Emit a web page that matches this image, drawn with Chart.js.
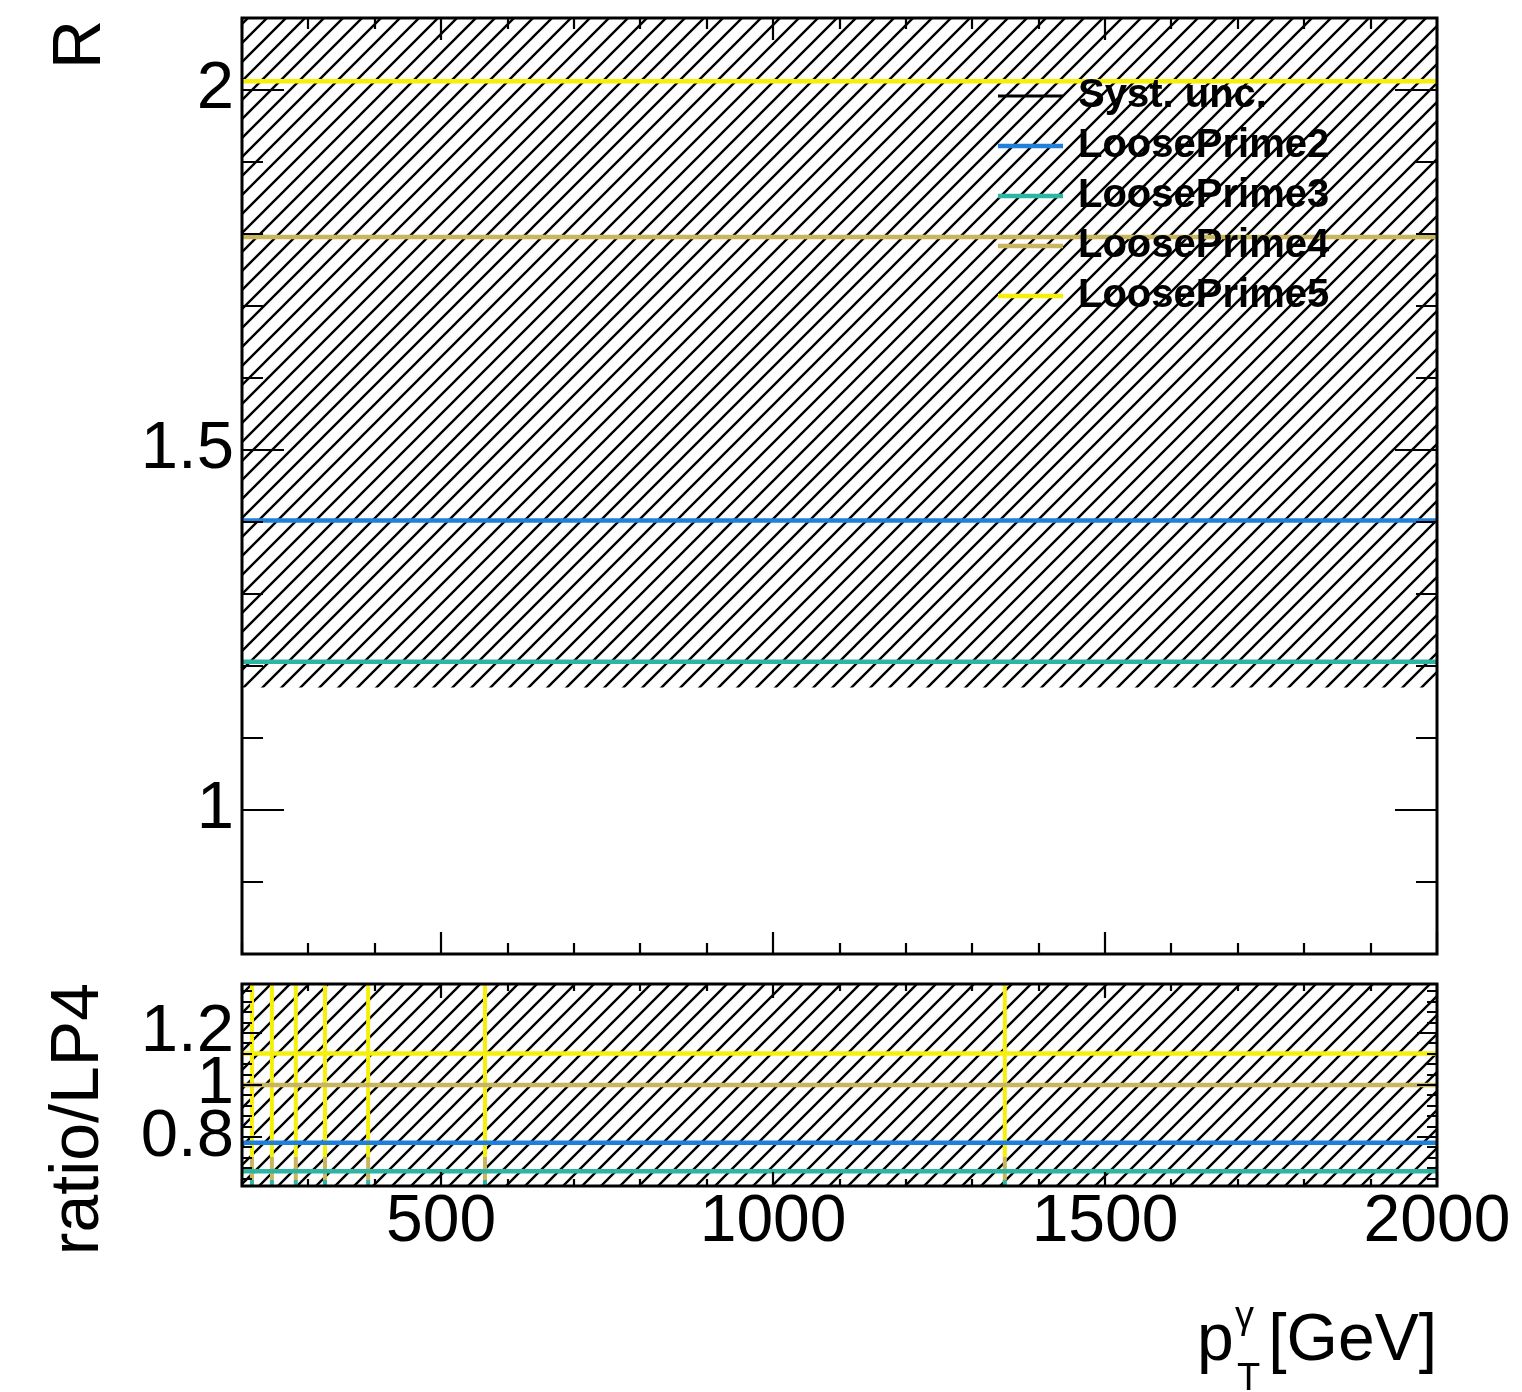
<!DOCTYPE html>
<html><head><meta charset="utf-8">
<script src="https://cdn.jsdelivr.net/npm/chart.js@4.4.1/dist/chart.umd.min.js"></script>
<style>
html,body{margin:0;padding:0;background:#fff;}
#wrap{position:relative;width:1522px;height:1392px;background:#fff;}
#c1{position:absolute;left:0;top:0;}
#c2{position:absolute;left:0;top:970px;}
</style></head><body>
<div id="wrap"><canvas id="c1" width="1522" height="970"></canvas><canvas id="c2" width="1522" height="422"></canvas></div>
<script>
// ---------------- data ----------------
const ptPoints = [200, 2000];            // pT range covered by the flat histograms
const sysLow  = [1.17, 1.17];            // systematic band (top panel)
const sysHigh = [2.30, 2.30];
const lp2 = [1.402, 1.402];
const lp3 = [1.206, 1.206];
const lp4 = [1.796, 1.796];
const lp5 = [2.012, 2.012];

const ratioSysLow  = [0.55, 0.55];       // systematic band (ratio panel)
const ratioSysHigh = [1.45, 1.45];
const ratioLP2 = [0.778, 0.778];
const ratioLP3 = [0.669, 0.669];
const ratioLP4 = [1.0, 1.0];
const ratioLP5 = [1.121, 1.121];

// bin edges where the ratio histograms jump out of range
const spikeEdges = [215, 245, 281, 325, 390, 566, 1349];
const spikeLP3 = [0.55, 0.635];
const spikeLP4 = [0.635, 0.723];
const spikeLP5 = [0.723, 1.45];

const xTickLabels = [500, 1000, 1500, 2000];
const yTicksTop = [1, 1.5, 2];
const yTicksRatio = [0.8, 1, 1.2];

const legendLabels = ['Syst. unc.', 'LoosePrime2', 'LoosePrime3', 'LoosePrime4', 'LoosePrime5'];

// ---------------- styles ----------------
const C_BLUE = '#1e80d8', C_TEAL = '#2db5a2', C_TAN = '#c9b55e', C_YEL = '#f6ef0a';
const legendColors = ['#000000', C_BLUE, C_TEAL, C_TAN, C_YEL];
const FONT = '"Liberation Sans", Arial, Helvetica, sans-serif';

function makeHatch(){
  const s = 19, cv = document.createElement('canvas');
  cv.width = s; cv.height = s;
  const g = cv.getContext('2d');
  g.strokeStyle = '#000'; g.lineWidth = 2.4; g.lineCap = 'square';
  g.beginPath();
  g.moveTo(0, s); g.lineTo(s, 0);
  g.moveTo(-s/2, s/2); g.lineTo(s/2, -s/2);
  g.moveTo(s/2, s*1.5); g.lineTo(s*1.5, s/2);
  g.stroke();
  return g.createPattern(cv, 'repeat');
}
const hatch = makeHatch();

const pts = (xs, ys) => xs.map((x, i) => ({x, y: ys[i]}));
function spikes(edges, range){
  const d = [];
  edges.forEach(e => { d.push({x:e, y:range[0]}, {x:e, y:range[1]}, {x:e, y:null}); });
  return d;
}
function range(a, b, step, skip){
  const out = [];
  for (let v = a; v <= b + 1e-9; v += step){
    const r = Math.round(v*1000)/1000;
    if (!skip.some(s => Math.abs(s - r) < 1e-6)) out.push(r);
  }
  return out;
}
const xMinor = range(200, 2000, 100, xTickLabels);
const yMinorTop = range(0.8, 2.1, 0.1, yTicksTop);
const yMinorRatio = range(0.64, 1.36, 0.04, yTicksRatio);

const lineDs = (label, data, color, order) => ({label, data, borderColor: color, borderWidth: 4.5,
  pointRadius: 0, fill: false, tension: 0, order});

const rootAxes = {
  id: 'rootAxes',
  afterDatasetsDraw(chart, args, o){
    const {ctx, chartArea: a, scales: {x, y}} = chart;
    ctx.save();
    ctx.strokeStyle = '#000'; ctx.lineWidth = 2.2; ctx.lineCap = 'butt';
    ctx.beginPath();
    const vx = (vals, len) => vals.forEach(v => {
      const p = Math.round(x.getPixelForValue(v));
      ctx.moveTo(p, a.bottom); ctx.lineTo(p, a.bottom - len);
      ctx.moveTo(p, a.top); ctx.lineTo(p, a.top + len);
    });
    const vy = (vals, len) => vals.forEach(v => {
      const p = Math.round(y.getPixelForValue(v));
      ctx.moveTo(a.left, p); ctx.lineTo(a.left + len, p);
      ctx.moveTo(a.right, p); ctx.lineTo(a.right - len, p);
    });
    vx(xTickLabels, o.xMaj); vx(xMinor, o.xMin);
    vy(o.yMajVals, o.yMaj); vy(o.yMinVals, o.yMin);
    ctx.stroke();
    ctx.lineWidth = 3;
    ctx.strokeRect(a.left, a.top, a.right - a.left, a.bottom - a.top);

    // rotated y title
    ctx.fillStyle = '#000';
    ctx.font = '68px ' + FONT;
    ctx.save();
    ctx.translate(o.yTitleX, o.yTitleY);
    ctx.rotate(-Math.PI/2);
    ctx.textAlign = 'right'; ctx.textBaseline = 'alphabetic';
    ctx.fillText(o.yTitle, 0, 0);
    ctx.restore();

    if (o.legend){
      ctx.font = 'bold 40px ' + FONT;
      ctx.textAlign = 'left'; ctx.textBaseline = 'alphabetic';
      legendLabels.forEach((t, i) => {
        const base = 107 + i*50;
        ctx.strokeStyle = legendColors[i]; ctx.lineWidth = i === 0 ? 3 : 4.5;
        ctx.beginPath(); ctx.moveTo(998, base - 11); ctx.lineTo(1063, base - 11); ctx.stroke();
        ctx.fillStyle = '#000';
        ctx.fillText(t, 1078, base);
      });
    }
    if (o.xTitle){
      ctx.fillStyle = '#000'; ctx.textBaseline = 'alphabetic';
      ctx.font = '66px ' + FONT;
      ctx.textAlign = 'left'; ctx.fillText('p', 1197, 390);
      ctx.textAlign = 'right'; ctx.fillText('[GeV]', 1437, 390);
      ctx.font = '38px ' + FONT; ctx.textAlign = 'left';
      ctx.fillText('\u03B3', 1235, 358);
      ctx.fillText('T', 1237, 420);
    }
    ctx.restore();
  }
};

const yScaleCommon = (min, max, ticks) => ({
  type: 'linear', min, max,
  afterBuildTicks: s => { s.ticks = ticks.map(v => ({value: v})); },
  ticks: {font: {family: FONT, size: 67, lineHeight: 1.1}, color: '#000', padding: 8,
          callback: v => String(v), autoSkip: false},
  grid: {display: false, drawTicks: false},
  border: {display: false},
  afterFit: s => { s.width = 242; s.paddingTop = 0; s.paddingBottom = 0; }
});

// ---------------- top panel ----------------
new Chart(document.getElementById('c1'), {
  type: 'line',
  data: {datasets: [
    {label: 'sysLow', data: pts(ptPoints, sysLow), borderColor: 'rgba(0,0,0,0)', borderWidth: 0, pointRadius: 0, fill: false, order: 20},
    {label: 'Syst. unc.', data: pts(ptPoints, sysHigh), borderColor: 'rgba(0,0,0,0)', borderWidth: 0, pointRadius: 0, fill: '-1', backgroundColor: hatch, order: 19},
    lineDs('LoosePrime2', pts(ptPoints, lp2), C_BLUE, 4),
    lineDs('LoosePrime3', pts(ptPoints, lp3), C_TEAL, 3),
    lineDs('LoosePrime4', pts(ptPoints, lp4), C_TAN, 2),
    lineDs('LoosePrime5', pts(ptPoints, lp5), C_YEL, 1)
  ]},
  options: {
    responsive: false, animation: false, devicePixelRatio: 1,
    layout: {padding: {left: 0, top: 18, right: 85, bottom: 16}},
    plugins: {legend: {display: false}, tooltip: {enabled: false},
      rootAxes: {xMaj: 22, xMin: 11, yMaj: 42, yMin: 21, yMajVals: yTicksTop, yMinVals: yMinorTop,
                 yTitle: 'R', yTitleX: 100, yTitleY: 20, legend: true}},
    scales: {
      x: {type: 'linear', min: 200, max: 2000, display: false},
      y: yScaleCommon(0.8, 2.1, yTicksTop)
    }
  },
  plugins: [rootAxes]
});

// ---------------- ratio panel ----------------
const spikeDs = (label, data, color, order) => ({label, data, borderColor: color, borderWidth: 4,
  pointRadius: 0, fill: false, spanGaps: false, order});
new Chart(document.getElementById('c2'), {
  type: 'line',
  data: {datasets: [
    {label: 'rsysLow', data: pts(ptPoints, ratioSysLow), borderColor: 'rgba(0,0,0,0)', borderWidth: 0, pointRadius: 0, fill: false, order: 20},
    {label: 'Syst. unc.', data: pts(ptPoints, ratioSysHigh), borderColor: 'rgba(0,0,0,0)', borderWidth: 0, pointRadius: 0, fill: '-1', backgroundColor: hatch, order: 19},
    spikeDs('LP3 edges', spikes(spikeEdges, spikeLP3), C_TEAL, 12),
    spikeDs('LP4 edges', spikes(spikeEdges, spikeLP4), C_TAN, 11),
    spikeDs('LP5 edges', spikes(spikeEdges, spikeLP5), C_YEL, 10),
    lineDs('LoosePrime2', pts(ptPoints, ratioLP2), C_BLUE, 4),
    lineDs('LoosePrime3', pts(ptPoints, ratioLP3), C_TEAL, 3),
    lineDs('LoosePrime4', pts(ptPoints, ratioLP4), C_TAN, 2),
    lineDs('LoosePrime5', pts(ptPoints, ratioLP5), C_YEL, 1)
  ]},
  options: {
    responsive: false, animation: false, devicePixelRatio: 1,
    layout: {padding: {left: 0, top: 14, right: 85, bottom: 0}},
    plugins: {legend: {display: false}, tooltip: {enabled: false},
      rootAxes: {xMaj: 14, xMin: 7, yMaj: 20, yMin: 10, yMajVals: yTicksRatio, yMinVals: yMinorRatio,
                 yTitle: 'ratio/LP4', yTitleX: 98, yTitleY: 13, xTitle: true}},
    scales: {
      x: {type: 'linear', min: 200, max: 2000, position: 'bottom',
          afterBuildTicks: s => { s.ticks = xTickLabels.map(v => ({value: v})); },
          ticks: {font: {family: FONT, size: 66, lineHeight: 1.1}, color: '#000', padding: 0,
                  maxRotation: 0, autoSkip: false, callback: v => String(v)},
          grid: {display: false, drawTicks: false}, border: {display: false},
          afterFit: s => { s.height = 206; s.paddingLeft = 0; s.paddingRight = 0; }},
      y: yScaleCommon(0.612, 1.388, yTicksRatio)
    }
  },
  plugins: [rootAxes]
});
</script>
</body></html>
